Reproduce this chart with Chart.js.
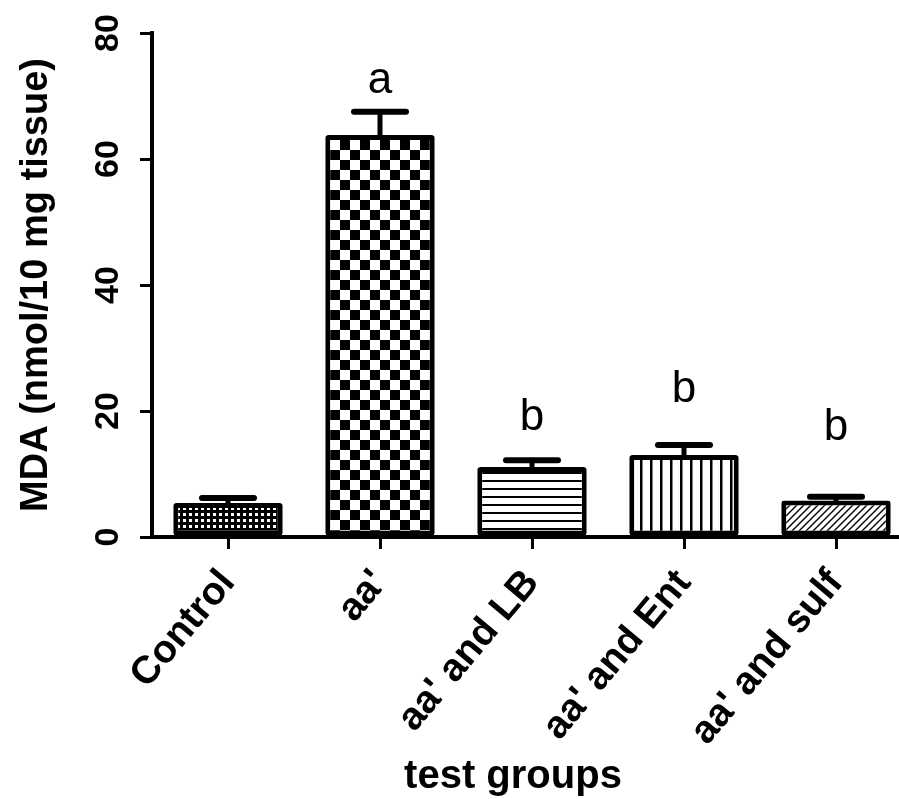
<!DOCTYPE html>
<html>
<head>
<meta charset="utf-8">
<title>MDA by test group</title>
<script src="https://cdn.jsdelivr.net/npm/chart.js@4.4.1/dist/chart.umd.min.js"></script>
<style>
    html, body { margin: 0; padding: 0; background: #fff; overflow: hidden; }
    #wrap { position: absolute; left: 0; top: 0; width: 912px; height: 799px; }
</style>
</head>
<body>
<div id="wrap"><canvas id="mda-chart"></canvas></div>
<script>
// Chart data
const categories = ['Control', "aa'", "aa' and LB", "aa' and Ent", "aa' and sulf"];
const mdaMeans = [5.4, 63.8, 11.1, 13.0, 5.8];
const mdaErrors = [0.8, 3.7, 1.1, 1.6, 0.6];
const sigLetters = ['', 'a', 'b', 'b', 'b'];
const letterHeights = [null, 70.5, 17.0, 21.4, 15.4]; // baseline of letters, in data units
const yTicks = [0, 20, 40, 60, 80];
const xTitle = 'test groups';

const FONT = '"Liberation Sans", Arial, sans-serif';

// Build the fill patterns for the bars
function makePattern(size, draw) {
    const c = document.createElement('canvas');
    c.width = size;
    c.height = size;
    const g = c.getContext('2d');
    g.fillStyle = '#fff';
    g.fillRect(0, 0, size, size);
    g.fillStyle = '#000';
    g.strokeStyle = '#000';
    draw(g, size);
    return document.getElementById('mda-chart').getContext('2d').createPattern(c, 'repeat');
}

const patterns = [
    // fine dotted grid (white dots on black)
    makePattern(6, (g, s) => { g.fillRect(0, 0, s, 3); g.fillRect(0, 0, 3, s); }),
    // checkerboard
    makePattern(20, (g, s) => { g.fillRect(0, 0, 10, 10); g.fillRect(10, 10, 10, 10); }),
    // horizontal lines
    makePattern(8, (g, s) => { g.fillRect(0, 0, s, 2); }),
    // vertical lines
    makePattern(10, (g, s) => { g.fillRect(0, 0, 2.5, s); }),
    // diagonal hatching
    makePattern(7, (g, s) => {
        g.lineWidth = 1.4;
        g.beginPath();
        g.moveTo(-1, s + 1); g.lineTo(s + 1, -1);
        g.moveTo(-1, 1); g.lineTo(1, -1);
        g.moveTo(s - 1, s + 1); g.lineTo(s + 1, s - 1);
        g.stroke();
    })
];

// Error bars, significance letters, rotated y tick labels and x title
const extrasPlugin = {
    id: 'extras',
    afterDatasetsDraw(chart) {
        const ctx = chart.ctx;
        const y = chart.scales.y;
        const meta = chart.getDatasetMeta(0);
        ctx.save();
        ctx.strokeStyle = '#000';
        ctx.lineCap = 'round';
        meta.data.forEach((bar, i) => {
            const top = y.getPixelForValue(mdaMeans[i]);
            const cap = y.getPixelForValue(mdaMeans[i] + mdaErrors[i]);
            ctx.lineWidth = 5;
            ctx.beginPath();
            ctx.moveTo(bar.x, top);
            ctx.lineTo(bar.x, cap);
            ctx.stroke();
            ctx.lineWidth = 6;
            ctx.beginPath();
            ctx.moveTo(bar.x - 26, cap);
            ctx.lineTo(bar.x + 26, cap);
            ctx.stroke();

            if (sigLetters[i]) {
                ctx.fillStyle = '#000';
                ctx.font = '44px ' + FONT;
                ctx.textAlign = 'center';
                ctx.textBaseline = 'alphabetic';
                ctx.fillText(sigLetters[i], bar.x, y.getPixelForValue(letterHeights[i]));
            }
        });
        ctx.restore();
    },
    afterDraw(chart) {
        const ctx = chart.ctx;
        const y = chart.scales.y;
        const area = chart.chartArea;
        ctx.save();
        ctx.fillStyle = '#000';
        ctx.font = 'bold 34px ' + FONT;
        ctx.textAlign = 'center';
        ctx.textBaseline = 'middle';
        yTicks.forEach(v => {
            ctx.save();
            ctx.translate(y.right - 43, y.getPixelForValue(v));
            ctx.rotate(-Math.PI / 2);
            ctx.fillText(String(v), 0, 0);
            ctx.restore();
        });

        // x axis title, sits a little left of the plot centre
        ctx.font = 'bold 40px ' + FONT;
        ctx.textBaseline = 'alphabetic';
        ctx.fillText(xTitle, (area.left + area.right) / 2 - 19, chart.height - 11);
        ctx.restore();
    }
};

new Chart(document.getElementById('mda-chart'), {
    type: 'bar',
    data: {
        labels: categories,
        datasets: [{
            data: mdaMeans,
            backgroundColor: patterns,
            borderColor: '#000',
            borderWidth: 5,
            borderSkipped: false,
            borderRadius: 3,
            categoryPercentage: 1,
            barPercentage: 0.72
        }]
    },
    options: {
        responsive: true,
        maintainAspectRatio: false,
        animation: false,
        layout: { padding: { top: 33, right: 0, bottom: 0, left: 0 } },
        plugins: {
            legend: { display: false },
            tooltip: { enabled: false }
        },
        scales: {
            x: {
                offset: true,
                grid: {
                    offset: false,
                    drawOnChartArea: false,
                    color: '#000',
                    lineWidth: 3,
                    tickLength: 12
                },
                border: { color: '#000', width: 4 },
                ticks: {
                    color: '#000',
                    font: { family: FONT, size: 39, weight: 'bold' },
                    minRotation: 50,
                    maxRotation: 50,
                    padding: 12,
                    autoSkip: false
                },
                afterFit(scale) { scale.height = 262; }
            },
            y: {
                min: 0,
                max: 80,
                grid: {
                    drawOnChartArea: false,
                    color: '#000',
                    lineWidth: 3,
                    tickLength: 12
                },
                border: { color: '#000', width: 4 },
                ticks: { display: false, stepSize: 20 },
                title: {
                    display: true,
                    text: 'MDA (nmol/10 mg tissue)',
                    color: '#000',
                    font: { family: FONT, size: 38, weight: 'bold' },
                    padding: { top: 14, bottom: 0 }
                },
                afterFit(scale) { scale.width = 152; }
            }
        }
    },
    plugins: [extrasPlugin]
});
</script>
</body>
</html>
